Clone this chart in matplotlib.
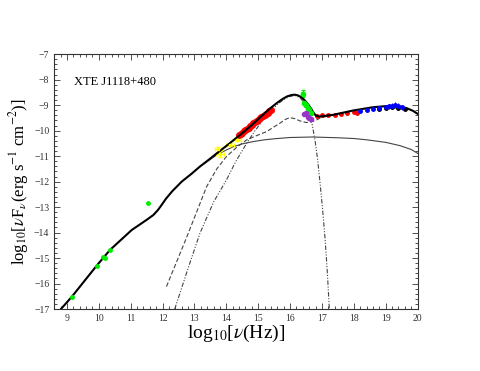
import matplotlib
matplotlib.use("Agg")
import matplotlib.pyplot as plt
from matplotlib.ticker import MultipleLocator

plt.rcParams['font.family'] = ['Liberation Serif', 'DejaVu Serif']
plt.rcParams['mathtext.fontset'] = 'stix'

# total model
tot_x = [8.81, 9.15, 9.93, 10.35, 11.03, 11.5, 11.71, 11.85, 11.95, 12.1, 12.3, 12.6, 12.9, 13.17, 13.45, 13.70, 14.0, 14.43, 14.8, 15.26, 15.4, 15.58, 15.75, 15.9, 16.05, 16.15, 16.25, 16.35, 16.45, 16.55, 16.65, 16.72, 16.8, 16.9, 17.0, 17.35, 17.98, 18.61, 19.0, 19.24, 19.45, 19.66, 19.85, 20.0]
tot_y = [-17.0, -16.52, -15.30, -14.68, -13.90, -13.5, -13.31, -13.12, -12.95, -12.68, -12.38, -12.0, -11.7, -11.41, -11.14, -10.89, -10.6, -10.17, -9.78, -9.25, -9.1, -8.92, -8.77, -8.66, -8.60, -8.59, -8.62, -8.69, -8.80, -8.95, -9.12, -9.27, -9.40, -9.45, -9.44, -9.38, -9.21, -9.08, -9.04, -9.03, -9.06, -9.12, -9.22, -9.34]
# thin solid component
disk_x = [13.3, 13.7, 14.0, 14.22, 14.5, 14.84, 15.2, 15.5, 15.99, 16.7, 17.5, 18.0, 18.4, 19.0, 19.45, 19.8, 20.0]
disk_y = [-11.3, -10.95, -10.76, -10.63, -10.52, -10.43, -10.36, -10.32, -10.27, -10.25, -10.28, -10.31, -10.36, -10.46, -10.59, -10.74, -10.89]
# dashed component
dash_x = [12.12, 12.75, 13.38, 13.7, 14.0, 14.3, 14.64, 15.0, 15.26, 15.5, 15.68, 15.85, 15.99, 16.15, 16.31, 16.5, 16.62, 16.8, 16.94, 17.2]
dash_y = [-16.12, -14.2, -12.2, -11.5, -11.02, -10.68, -10.36, -10.17, -10.04, -9.85, -9.71, -9.56, -9.49, -9.53, -9.62, -9.68, -9.67, -9.6, -9.51, -9.42]
# dash-dot component
dd_x = [12.38, 12.8, 13.17, 13.6, 14.0, 14.3, 14.64, 14.9, 15.16, 15.4, 15.58, 15.8, 15.99, 16.15, 16.3, 16.45, 16.6, 16.7, 16.78, 16.86, 16.94, 17.02, 17.10, 17.17, 17.23]
dd_y = [-17.0, -15.4, -14.03, -12.8, -11.94, -11.2, -10.49, -10.0, -9.58, -9.25, -8.99, -8.78, -8.66, -8.62, -8.7, -8.9, -9.35, -9.8, -10.36, -11.1, -12.06, -13.1, -14.29, -15.6, -17.0]

radio_x = [9.15, 9.93, 10.14, 10.2, 10.35, 11.55]
radio_y = [-16.52, -15.30, -14.95, -15.0, -14.68, -12.85]
ir_x = [13.75, 13.8, 14.11, 14.33]
ir_y = [-10.74, -10.9, -10.56, -10.37]
ir_err = [0.08, 0.12, 0.06, 0.05]
opt_x = [14.4, 14.45, 14.5, 14.55, 14.6, 14.65, 14.7, 14.75, 14.8, 14.85, 14.9, 14.95, 15.0, 15.05, 15.1, 15.15, 15.2, 15.25, 15.3, 15.35, 15.4]
opt_y = [-10.18, -10.12, -10.08, -10.03, -9.98, -9.93, -9.88, -9.83, -9.78, -9.72, -9.67, -9.62, -9.57, -9.52, -9.47, -9.42, -9.38, -9.33, -9.29, -9.24, -9.2]
uvg_x = [16.40, 16.45, 16.5, 16.55, 16.6, 16.65]
uvg_y = [-8.55, -8.9, -9.0, -9.1, -9.2, -9.3]
uvg_err = [0.15, 0.06, 0.05, 0.05, 0.05, 0.05]
euv_x = [16.45, 16.5, 16.55, 16.6, 16.65]
euv_y = [-9.35, -9.3, -9.45, -9.5, -9.55]
xr_x = [16.85, 17.0, 17.2, 17.4, 17.6, 17.8, 18.0, 18.1]
xr_y = [-9.42, -9.40, -9.38, -9.37, -9.35, -9.32, -9.28, -9.3]
hx_x = [18.2, 18.4, 18.6, 18.8, 19.0, 19.1, 19.2, 19.3, 19.4, 19.5]
hx_y = [-9.22, -9.18, -9.14, -9.12, -9.08, -9.05, -9.02, -9.0, -9.05, -9.08]
hx_err = [0.04, 0.04, 0.05, 0.06, 0.08, 0.1, 0.12, 0.12, 0.12, 0.1]
bk_x = [18.8, 19.0, 19.2, 19.4, 19.6]
bk_y = [-9.15, -9.1, -9.07, -9.1, -9.15]

fig = plt.figure(figsize=(4.8, 3.71), dpi=100)
ax = fig.add_axes([0.113, 0.167, 0.757, 0.687])

ax.plot(disk_x, disk_y, color='#444444', lw=0.8)
ax.plot(dash_x, dash_y, color='#444444', lw=0.8, ls=(0, (4, 2)))
ax.plot(dd_x, dd_y, color='#444444', lw=0.8, ls=(0, (4, 1.5, 1, 1.5, 1, 1.5)))

ax.errorbar(radio_x, radio_y, xerr=0.06, yerr=0.05, fmt='o', ms=2.5, color='#00ee00', lw=0.8, capsize=0)
ax.errorbar(ir_x, ir_y, xerr=0.12, yerr=ir_err, fmt='s', ms=2, color='#ffff00', lw=0.8, capsize=1.5)
ax.plot(opt_x, opt_y, 'o', ms=4, color='#ff0000')
ax.errorbar(uvg_x, uvg_y, yerr=uvg_err, xerr=0.05, fmt='o', ms=3, color='#00ee00', lw=0.8, capsize=1.5)
ax.errorbar(euv_x, euv_y, yerr=0.06, xerr=0.04, fmt='o', ms=3, color='#9933cc', lw=0.8, capsize=0)
ax.plot(xr_x, xr_y, 'o', ms=2.5, color='#ff0000')
ax.errorbar(hx_x, hx_y, yerr=hx_err, xerr=0.05, fmt='o', ms=2.5, color='#0000ff', lw=0.8, capsize=0)
ax.plot(bk_x, bk_y, 'o', ms=2.5, color='black')

ax.plot(tot_x, tot_y, color='black', lw=1.5)

ax.set_xlim(8.6, 20)
ax.set_ylim(-17, -7)
ax.xaxis.set_major_locator(MultipleLocator(1))
ax.xaxis.set_minor_locator(MultipleLocator(0.2))
ax.yaxis.set_major_locator(MultipleLocator(1))
ax.yaxis.set_minor_locator(MultipleLocator(0.2))
ax.tick_params(which='both', direction='in', top=True, right=True, labelsize=7, width=0.6, colors='#333333')
ax.tick_params(which='major', length=4)
ax.tick_params(which='minor', length=2)
for s in ax.spines.values():
    s.set_linewidth(0.8)
    s.set_color('#333333')

ax.text(9.22, -8.1, 'XTE J1118+480', fontsize=9, va='center')
ax.set_xlabel(r'log$_{10}$[$\nu$(Hz)]', fontsize=14, labelpad=0)
ax.set_ylabel(r'log$_{10}$[$\nu$F$_\nu$(erg s$^{-1}$ cm$^{-2}$)]', fontsize=12, labelpad=2)

fig.savefig('out.png', dpi=100)
